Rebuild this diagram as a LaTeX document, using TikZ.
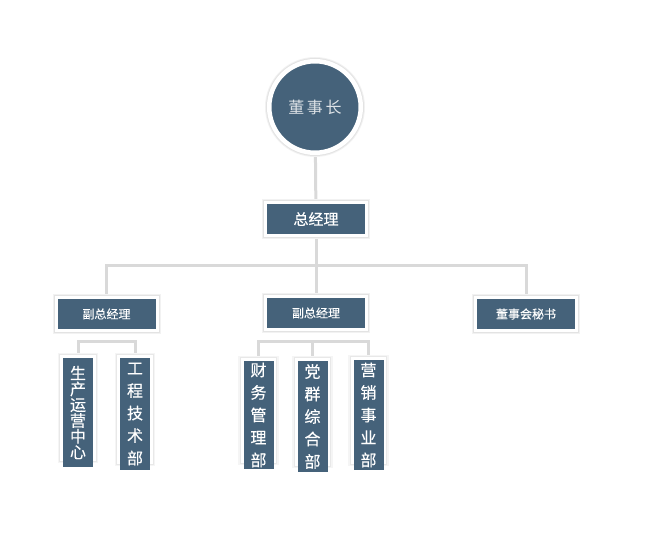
\documentclass[tikz,border=0pt]{standalone}
\usepackage{fontspec}
\newfontfamily\cjk{Noto Sans CJK SC}
\newfontfamily\cjkb[FakeBold=0.3]{Noto Sans CJK SC}
\usetikzlibrary{backgrounds}
\definecolor{SlateBlue}{HTML}{45627A}
\definecolor{LinkGray}{HTML}{D9D9D9}

\begin{document}
\begin{tikzpicture}[x=1pt,y=-1pt,
  halo/.style={preaction={draw=black!5,line width=#1+4pt},preaction={draw=black!11,line width=#1+2pt}},
  box/.style={fill=SlateBlue,draw=white,line width=3pt,minimum width=101pt,minimum height=33pt,inner sep=0pt,
    text=white,font=\cjkb\fontsize{12}{14}\selectfont,halo=3pt},
  col/.style={fill=SlateBlue,text=white,minimum width=30pt,inner sep=0pt,align=center,
    font=\cjkb\fontsize{16}{22.5}\selectfont},
  frame/.style={fill=white,draw=black!9,line width=1pt,preaction={draw=black!4,line width=4pt}},
  link/.style={draw=LinkGray,line width=3pt}]
\useasboundingbox (0,0) rectangle (659,534);

\node[circle,fill=SlateBlue,draw=white,line width=4.5pt,minimum size=91.5pt,halo=4.5pt,
  text=SlateBlue!18!white,font=\cjk\fontsize{16}{18}\selectfont] (chair) at (315,107) {董\,事\,长};
\node[box,font=\cjkb\fontsize{15}{16}\selectfont] (gm) at (316,219) {总经理};
\node[box] (vp1) at (106.5,314) {副总经理};
\node[box] (vp2) at (316,313) {副总经理};
\node[box] (sec) at (526,314) {董事会秘书};

% departments
\node[col,minimum height=109pt,font=\cjkb\fontsize{16}{15.8}\selectfont] (c1) at (78,412.5) {生\\产\\运\\营\\中\\心};
\node[col,minimum height=112pt] (c2) at (135,414) {工\\程\\技\\术\\部};
\node[col,minimum height=108pt] (d1) at (258.5,415) {财\\务\\管\\理\\部};
\node[col,minimum height=111pt] (d2) at (312.5,416.5) {党\\群\\综\\合\\部};
\node[col,minimum height=110pt] (d3) at (368.5,415) {营\\销\\事\\业\\部};

\coordinate (hub) at (316,266);
\coordinate (lb) at (107,342);
\coordinate (mb) at (316,342);

\begin{scope}[on background layer]
\draw[link] (chair) -- (gm);
\draw[link] (gm) -- (vp2);
\draw[link] (vp1.north) |- (hub) -| (sec.north);
\draw[link] (c1.north) |- (lb) -| (c2.north);
\draw[link] (d1.north) |- (mb) -| (d3.north);
\draw[link] (d2.north) -- (d2.north |- mb);
\foreach \n in {c1,c2,d1,d2,d3}
  \path[frame] ([xshift=-3pt,yshift=3pt]\n.north west) rectangle ([xshift=3pt,yshift=6pt]\n.south east);
\end{scope}
\end{tikzpicture}
\end{document}
